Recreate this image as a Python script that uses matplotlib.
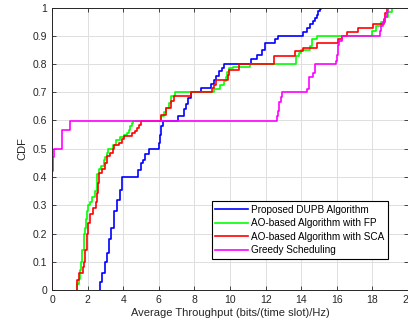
import numpy as np
import matplotlib
matplotlib.use("Agg")
import matplotlib.pyplot as plt

plt.rcParams['font.family'] = ['Liberation Sans', 'DejaVu Sans']

# step points (x = throughput where CDF jumps, y = new CDF level)
dupb_x = [2.67, 2.67, 2.8, 2.95, 3.07, 3.2, 3.33, 3.46, 3.65, 3.8, 3.96, 4.85, 5.0, 5.1, 5.25, 5.44,
          6.0, 6.07, 6.15, 6.25, 7.06, 7.42, 7.55, 7.65, 7.8, 8.36, 8.95, 9.1, 9.2, 9.4, 9.55, 9.68,
          11.2, 11.5, 11.8, 11.95, 12.55, 12.7, 14.1, 14.35, 14.48, 14.67, 14.76, 14.86, 14.95, 15.05, 15.12]
dupb_y = [0, 0.03, 0.06, 0.1, 0.13, 0.18, 0.22, 0.28, 0.32, 0.355, 0.4, 0.425, 0.45, 0.46, 0.48, 0.5,
          0.52, 0.55, 0.58, 0.6, 0.617, 0.64, 0.66, 0.68, 0.7, 0.715, 0.73, 0.745, 0.757, 0.774, 0.786, 0.8,
          0.817, 0.833, 0.85, 0.875, 0.89, 0.9, 0.914, 0.928, 0.94, 0.952, 0.964, 0.975, 0.987, 0.993, 1.0]

fp_x = [1.43, 1.43, 1.5, 1.56, 1.65, 1.7, 1.77, 1.86, 1.92, 1.98, 2.05, 2.15, 2.24, 2.43, 2.5, 2.55,
        2.62, 2.75, 2.9, 3.0, 3.09, 3.15, 3.45, 3.6, 3.8, 4.05, 4.2, 4.3, 4.4, 4.48, 4.55,
        6.15, 6.3, 6.4, 6.55, 6.7, 6.9, 9.1, 9.45, 9.65, 9.75, 9.85, 9.95, 10.15, 11.1,
        13.73, 13.9, 14.0, 14.48, 14.58, 14.86, 17.97, 18.2, 18.5, 18.7, 18.85, 19.1]
fp_y = [0, 0.02, 0.04, 0.07, 0.1, 0.14, 0.2, 0.22, 0.25, 0.28, 0.3, 0.313, 0.33, 0.35, 0.38, 0.41,
        0.43, 0.44, 0.46, 0.47, 0.485, 0.5, 0.514, 0.53, 0.54, 0.547, 0.556, 0.567, 0.58, 0.59, 0.6,
        0.615, 0.63, 0.645, 0.662, 0.685, 0.7, 0.71, 0.727, 0.74, 0.755, 0.77, 0.786, 0.79, 0.8,
        0.827, 0.84, 0.851, 0.864, 0.887, 0.9, 0.917, 0.933, 0.95, 0.967, 0.983, 1.0]

sca_x = [1.38, 1.38, 1.5, 1.73, 1.8, 1.86, 1.96, 2.05, 2.15, 2.33, 2.45, 2.52, 2.58, 2.65, 2.8, 2.99,
         3.09, 3.28, 3.4, 3.5, 3.75, 3.94, 4.03, 4.5, 4.69, 4.78, 4.9, 5.0,
         6.1, 6.38, 6.67, 6.85, 7.8, 9.0, 9.1, 9.2, 9.87, 9.96, 10.53, 12.47, 13.63, 14.1, 14.86,
         16.08, 16.3, 16.6, 17.2, 18.06, 18.63, 18.7, 18.8]
sca_y = [0, 0.035, 0.06, 0.08, 0.1, 0.14, 0.2, 0.236, 0.27, 0.29, 0.31, 0.343, 0.38, 0.414, 0.43, 0.45,
         0.473, 0.485, 0.5, 0.514, 0.52, 0.535, 0.544, 0.556, 0.562, 0.573, 0.585, 0.6,
         0.62, 0.644, 0.67, 0.688, 0.7, 0.715, 0.727, 0.745, 0.76, 0.778, 0.8, 0.827, 0.846, 0.857, 0.875,
         0.887, 0.9, 0.914, 0.928, 0.943, 0.96, 0.98, 1.0]

greedy_x = [0, 0, 0.03, 0.1, 0.55, 1.0, 12.65, 12.7, 12.75, 12.85, 12.9, 14.35, 14.42, 14.67, 14.76,
            15.95, 16.0, 16.05, 16.15, 16.3, 18.44, 18.5, 18.6, 18.7, 18.8, 18.9]
greedy_y = [0, 0.42, 0.47, 0.5, 0.567, 0.6, 0.617, 0.633, 0.667, 0.683, 0.7, 0.71, 0.755, 0.767, 0.8,
            0.81, 0.833, 0.867, 0.883, 0.9, 0.917, 0.933, 0.95, 0.967, 0.983, 1.0]

labels = ['Proposed DUPB Algorithm', 'AO-based Algorithm with FP',
          'AO-based Algorithm with SCA', 'Greedy Scheduling']
colors = ['#0000ff', '#00ff00', '#ff0000', '#ff00ff']

fig = plt.figure(figsize=(4.08, 3.33), dpi=100)
ax = fig.add_axes([52/408, 1 - 290/333, 356/408, 282.5/333])

series = [(dupb_x, dupb_y), (fp_x, fp_y), (sca_x, sca_y), (greedy_x, greedy_y)]
for (xs, ys), c, lab in zip(series, colors, labels):
    ax.step(xs, ys, where='post', color=c, lw=1.2, label=lab)

ax.set_xlim(0, 20)
ax.set_ylim(0, 1)
ax.set_xticks(np.arange(0, 21, 2))
ax.set_yticks(np.arange(0, 1.01, 0.1))
ax.set_yticklabels(['0', '0.1', '0.2', '0.3', '0.4', '0.5', '0.6', '0.7', '0.8', '0.9', '1'])
ax.grid(True, color='#dfdfdf', lw=0.7)
ax.set_axisbelow(True)
ax.tick_params(direction='in', top=True, right=True, labelsize=7.5, length=3,
               color='#262626', labelcolor='#262626', width=0.6)
for s in ax.spines.values():
    s.set_color('#262626')
    s.set_linewidth(0.7)

ax.set_xlabel('Average Throughput (bits/(time slot)/Hz)', fontsize=8, color='#262626', labelpad=2)
ax.set_ylabel('CDF', fontsize=8, color='#262626', labelpad=4)

leg = ax.legend(loc='lower right', bbox_to_anchor=(0.944, 0.11), borderaxespad=0,
                fontsize=7.2, handlelength=3.3, labelspacing=0.35, handletextpad=0.3,
                borderpad=0.35, fancybox=False, framealpha=1)
leg.get_frame().set_edgecolor('black')
leg.get_frame().set_linewidth(0.8)

fig.savefig('out.png', dpi=100)
